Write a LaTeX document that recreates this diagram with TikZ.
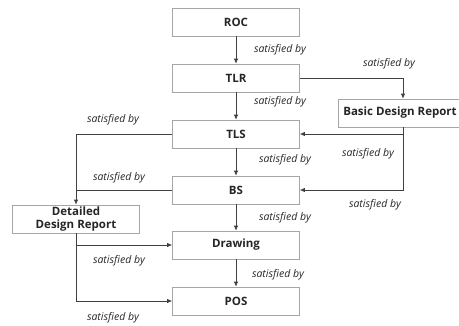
\documentclass[tikz,border=0pt]{standalone}
\usepackage{fontspec}
\setmainfont{Open Sans}
\usetikzlibrary{arrows.meta}

\tikzset{
	blk/.style={draw=black!35, line width=0.7pt, fill=white, minimum width=127pt,
		minimum height=28pt, inner sep=1pt, align=center, text=black!85,
		font=\fontsize{11.5}{13.5}\selectfont\bfseries},
	lbl/.style={inner sep=0pt, text=black!85, font=\fontsize{10.5}{12}\selectfont\itshape},
	arr/.style={draw=black!75, line width=0.7pt, -{Latex[length=5pt,width=4.5pt]}},
	lin/.style={draw=black!75, line width=0.7pt}
}

\begin{document}
\begin{tikzpicture}[x=1pt, y=-1pt]
\useasboundingbox (0,0) rectangle (459,325);

% Bloques
\node[blk] (ROC) at (236,22) {ROC};
\node[blk] (TLR) at (236,78) {TLR};
\node[blk] (TLS) at (236,134) {TLS};
\node[blk] (BS) at (236,190) {BS};
\node[blk] (DRW) at (236,245) {Drawing};
\node[blk] (POS) at (236,301) {POS};
\node[blk, minimum width=124pt] (BDR) at (400,113) {Basic Design Report};
\node[blk] (DDR) at (76,219) {Detailed\\Design Report};

% Conexiones
\draw[arr] (ROC) -- (TLR);
\draw[arr] (TLR) -- (TLS);
\draw[arr] (TLS) -- (BS);
\draw[arr] (BS) -- (DRW);
\draw[arr] (DRW) -- (POS);

\draw[arr] (TLR.east) -| ([xshift=3pt]BDR.north);
\draw[arr] ([xshift=3pt]BDR.south) |- (TLS.east);
\draw[arr] ([xshift=3pt]BDR.south) |- (BS.east);

\draw[arr] (TLS.west) -| (DDR.north);
\draw[lin] (BS.west) -- (BS.west -| DDR.north);
\draw[arr] (DDR.south) |- (DRW.west);
\draw[arr] (DDR.south) |- (POS.west);

% Etiquetas
\node[lbl] (L1) at (280,50) {satisfied by};
\node[lbl] (L2) at (389,64) {satisfied by};
\node[lbl] (L3) at (280,102) {satisfied by};
\node[lbl] (L4) at (368,154) {satisfied by};
\node[lbl] (L5) at (375,205) {satisfied by};
\node[lbl] (L6) at (113,120) {satisfied by};
\node[lbl] (L7) at (285,160) {satisfied by};
\node[lbl] (L8) at (119,178) {satisfied by};
\node[lbl] (L9) at (285,218) {satisfied by};
\node[lbl] (L10) at (119,261) {satisfied by};
\node[lbl] (L11) at (278,275) {satisfied by};
\node[lbl] (L12) at (113,318) {satisfied by};
\end{tikzpicture}
\end{document}
